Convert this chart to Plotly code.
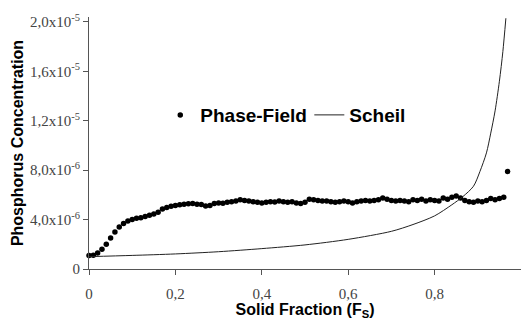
import plotly.graph_objects as go

# Phase-field simulation (solid fraction, P concentration in units of 1e-6)
pf_fs = [0.00, 0.01, 0.02, 0.03, 0.04, 0.05, 0.06, 0.07, 0.08, 0.09,
         0.10, 0.11, 0.12, 0.13, 0.14, 0.15, 0.16, 0.17, 0.18, 0.19,
         0.20, 0.21, 0.22, 0.23, 0.24, 0.25, 0.26, 0.27, 0.28, 0.29,
         0.30, 0.31, 0.32, 0.33, 0.34, 0.35, 0.36, 0.37, 0.38, 0.39,
         0.40, 0.41, 0.42, 0.43, 0.44, 0.45, 0.46, 0.47, 0.48, 0.49,
         0.50, 0.51, 0.52, 0.53, 0.54, 0.55, 0.56, 0.57, 0.58, 0.59,
         0.60, 0.61, 0.62, 0.63, 0.64, 0.65, 0.66, 0.67, 0.68, 0.69,
         0.70, 0.71, 0.72, 0.73, 0.74, 0.75, 0.76, 0.77, 0.78, 0.79,
         0.80, 0.81, 0.82, 0.83, 0.84, 0.85, 0.86, 0.87, 0.88, 0.89,
         0.90, 0.91, 0.92, 0.93, 0.94, 0.95, 0.96, 0.969]
pf_c = [1.10, 1.12, 1.30, 1.60, 2.00, 2.50, 3.00, 3.40, 3.68, 3.88,
        4.00, 4.10, 4.15, 4.25, 4.35, 4.45, 4.60, 4.85, 4.98, 5.08,
        5.15, 5.20, 5.25, 5.28, 5.30, 5.25, 5.22, 5.10, 5.15, 5.30,
        5.35, 5.32, 5.40, 5.45, 5.50, 5.60, 5.55, 5.50, 5.45, 5.40,
        5.35, 5.40, 5.45, 5.42, 5.50, 5.45, 5.40, 5.45, 5.35, 5.30,
        5.40, 5.65, 5.60, 5.55, 5.50, 5.50, 5.45, 5.40, 5.45, 5.50,
        5.45, 5.35, 5.45, 5.50, 5.55, 5.50, 5.55, 5.60, 5.75, 5.65,
        5.55, 5.50, 5.55, 5.50, 5.45, 5.60, 5.55, 5.65, 5.50, 5.60,
        5.55, 5.50, 5.75, 5.65, 5.80, 5.90, 5.75, 5.55, 5.45, 5.40,
        5.50, 5.45, 5.55, 5.70, 5.60, 5.70, 5.80, 7.90]

# Scheil prediction
sch_fs = [0.0, 0.1, 0.2, 0.3, 0.4, 0.5, 0.6, 0.7, 0.75, 0.8, 0.84, 0.865,
          0.89, 0.905, 0.92, 0.93, 0.94, 0.95, 0.958, 0.965]
sch_c = [1.0, 1.1, 1.22, 1.4, 1.65, 1.95, 2.4, 3.05, 3.6, 4.3, 5.2, 5.85,
         6.7, 7.9, 9.4, 11.0, 12.8, 15.2, 17.6, 20.3]

x_ticks = [0, 0.2, 0.4, 0.6, 0.8, 1.0]
x_labels = ["0", "0,2", "0,4", "0,6", "0,8", "1"]
y_ticks = [0, 4e-6, 8e-6, 1.2e-5, 1.6e-5, 2.0e-5]
y_labels = ["0", "4,0x10<sup>-6</sup>", "8,0x10<sup>-6</sup>",
            "1,2x10<sup>-5</sup>", "1,6x10<sup>-5</sup>", "2,0x10<sup>-5</sup>"]

scale = 1e-6
fig = go.Figure()
fig.add_trace(go.Scatter(
    x=pf_fs, y=[v * scale for v in pf_c], mode="markers", name="Phase-Field",
    marker=dict(color="black", size=5.5), cliponaxis=False, legend="legend"))
fig.add_trace(go.Scatter(
    x=sch_fs, y=[v * scale for v in sch_c], mode="lines", name="Scheil",
    line=dict(color="#222222", width=1, shape="spline", smoothing=0.8),
    legend="legend2"))

tickfont = dict(family="Times New Roman", size=15, color="#444444")
titlefont = dict(family="Liberation Sans", size=16, color="black", weight="bold")
legfont = dict(family="Liberation Sans", size=19, color="black", weight="bold")

fig.update_layout(
    width=521, height=320,
    margin=dict(l=89, r=0, t=17, b=51),
    paper_bgcolor="white", plot_bgcolor="white",
    showlegend=True,
    legend=dict(x=0.165, y=0.611, xanchor="left", yanchor="middle",
                bgcolor="rgba(0,0,0,0)", font=legfont),
    legend2=dict(x=0.51, y=0.611, xanchor="left", yanchor="middle",
                 bgcolor="rgba(0,0,0,0)", font=legfont),
    xaxis=dict(range=[0, 1], tickvals=x_ticks, ticktext=x_labels,
               showgrid=False, zeroline=False, showline=True, linecolor="#555555",
               linewidth=1, ticks="outside", ticklen=5, tickcolor="#555555",
               tickfont=tickfont, ticklabelstandoff=6,
               title=dict(text="Solid Fraction (F<sub>S</sub>)", font=titlefont, standoff=0)),
    yaxis=dict(range=[0, 2.04e-5], tickvals=y_ticks, ticktext=y_labels,
               showgrid=False, zeroline=False, showline=True, linecolor="#555555",
               linewidth=1, ticks="outside", ticklen=5, tickcolor="#555555",
               tickfont=tickfont,
               title=dict(text="Phosphorus Concentration", font=titlefont, standoff=2)),
)

fig.write_html("out.html")
